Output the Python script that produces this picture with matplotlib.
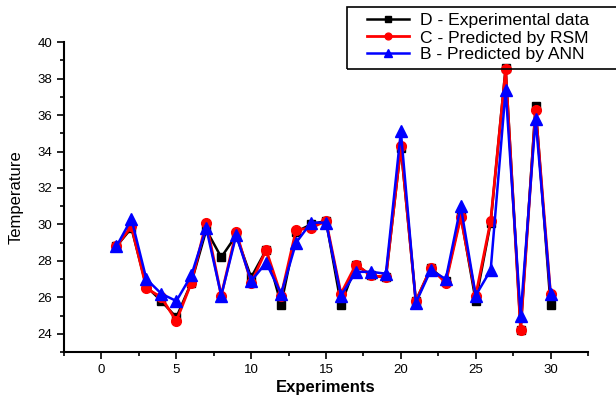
import numpy as np
import matplotlib
matplotlib.use("Agg")
import matplotlib.pyplot as plt
from matplotlib.patches import Rectangle
from matplotlib.ticker import MultipleLocator

plt.rcParams['font.family'] = ['Liberation Sans', 'DejaVu Sans']

# experiment numbers and measured / predicted temperatures
experiments = np.arange(1, 31)
experimental = [28.8, 29.8, 26.6, 25.8, 24.9, 26.8, 29.7, 28.2, 29.4, 27.1,
                28.6, 25.6, 29.6, 30.0, 30.2, 25.6, 27.8, 27.2, 27.1, 34.2,
                25.8, 27.6, 26.9, 30.5, 25.8, 30.1, 38.6, 24.2, 36.5, 25.6]
rsm = [28.8, 29.9, 26.5, 26.0, 24.7, 26.8, 30.1, 26.1, 29.6, 26.8,
       28.6, 26.1, 29.7, 29.8, 30.2, 26.2, 27.8, 27.2, 27.1, 34.3,
       25.8, 27.6, 26.8, 30.4, 26.1, 30.2, 38.5, 24.2, 36.3, 26.2]
ann = [28.8, 30.3, 27.0, 26.2, 25.8, 27.2, 29.8, 26.1, 29.4, 26.9,
       27.9, 26.2, 29.0, 30.1, 30.1, 26.1, 27.4, 27.4, 27.3, 35.1,
       25.7, 27.5, 27.0, 31.0, 26.1, 27.5, 37.4, 25.0, 35.8, 26.2]

fig = plt.figure(figsize=(6.16, 4.01), dpi=100)
ax = fig.add_axes([0.104, 0.122, 0.8505, 0.773])

ax.plot(experiments, experimental, color='black', marker='s', markersize=6,
        linewidth=1.8, label='D - Experimental data')
ax.plot(experiments, rsm, color='red', marker='o', markersize=7,
        linewidth=2, label='C - Predicted by RSM')
ax.plot(experiments, ann, color='blue', marker='^', markersize=8,
        linewidth=1.8, label='B - Predicted by ANN')

ax.set_xlim(-2.5, 32.5)
ax.set_ylim(23, 40)
ax.xaxis.set_major_locator(MultipleLocator(5))
ax.xaxis.set_minor_locator(MultipleLocator(2.5))
ax.yaxis.set_major_locator(MultipleLocator(2))
ax.yaxis.set_minor_locator(MultipleLocator(1))
ax.tick_params(which='major', direction='out', length=5, width=1.2, labelsize=9.5)
ax.tick_params(which='minor', direction='out', length=3, width=1.2)

ax.spines['top'].set_visible(False)
ax.spines['right'].set_visible(False)
ax.spines['left'].set_linewidth(1.5)
ax.spines['bottom'].set_linewidth(1.5)

ax.set_xlabel('Experiments', fontsize=12, fontweight='bold', labelpad=3)
ax.set_ylabel('Temperature', fontsize=12, labelpad=10)

# legend without its own frame, the box runs off the right edge like the original
fig.legend(loc='upper left', bbox_to_anchor=(362 / 616, 1 - 8 / 401),
           fontsize=12.6, frameon=False, handlelength=2.4, handletextpad=0.6,
           labelspacing=0.1, borderpad=0.3, borderaxespad=0,
           markerscale=0.7)
fig.patches.append(Rectangle((347 / 616, 1 - 69 / 401), 0.5, 62 / 401,
                             transform=fig.transFigure, fill=False,
                             edgecolor='black', linewidth=1.2))

fig.savefig('out.png', dpi=100)
